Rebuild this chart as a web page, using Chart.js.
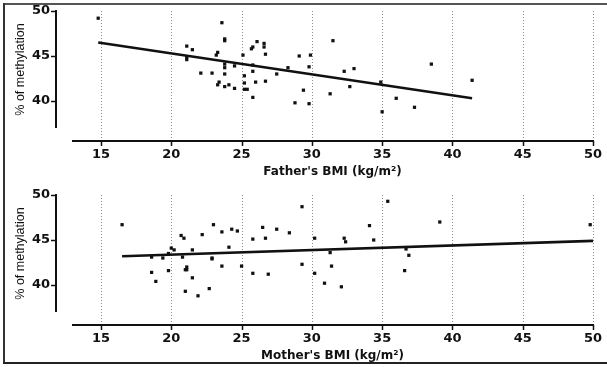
<!DOCTYPE html>
<html>
<head>
<meta charset="utf-8">
<script src="https://cdn.jsdelivr.net/npm/chart.js@4.4.1/dist/chart.umd.min.js"></script>
<style>
  html, body { margin: 0; padding: 0; background: #fff; overflow: hidden; }
  #wrap { position: relative; width: 607px; height: 367px; overflow: hidden; background: #fff; }
  #wrap canvas { position: absolute; left: 0; }
  #c1 { top: 0; }
  #c2 { top: 184px; }
  .fl { position: absolute; pointer-events: none; }
  #fTop { left: 3px; top: 3px; width: 604px; height: 2px; background: #555; }
  #fLeft { left: 3px; top: 3px; width: 2px; height: 361px; background: #333; }
  #fBot { left: 3px; top: 362px; width: 604px; height: 2px; background: #222; }
</style>
</head>
<body>
<div id="wrap">
  <canvas id="c1" width="607" height="183"></canvas>
  <canvas id="c2" width="607" height="183"></canvas>
  <div class="fl" id="fTop"></div>
  <div class="fl" id="fLeft"></div>
  <div class="fl" id="fBot"></div>
</div>
<script>
// ---- data ----
const fatherBMI  = [14.8, 23.6, 23.8, 23.8, 21.1, 21.5, 23.3, 23.2, 21.1, 21.1, 26.1, 25.8, 25.7, 26.6, 26.6, 26.7, 25.1,
                    23.8, 23.8, 23.8, 24.5, 25.8, 22.1, 22.9, 25.2, 25.8, 27.5, 28.3, 29.1, 29.9, 29.8, 23.4, 23.3,
                    23.8, 24.1, 24.5, 25.2, 25.2, 25.4, 26.0, 26.7, 25.8, 29.4, 28.8, 29.8, 31.5, 31.3, 32.3, 33.0,
                    32.7, 34.9, 35.0, 36.0, 37.3, 38.5, 41.4];
const fatherMeth = [49.2, 48.7, 46.9, 46.7, 46.1, 45.7, 45.4, 45.1, 44.9, 44.6, 46.6, 46.0, 45.8, 46.4, 46.0, 45.2, 45.1,
                    44.1, 43.7, 43.0, 43.9, 44.0, 43.1, 43.1, 42.8, 43.3, 43.0, 43.7, 45.0, 45.1, 43.8, 42.1, 41.8,
                    41.6, 41.8, 41.4, 42.0, 41.3, 41.3, 42.1, 42.2, 40.4, 41.2, 39.8, 39.7, 46.7, 40.8, 43.3, 43.6,
                    41.6, 42.1, 38.8, 40.3, 39.3, 44.1, 42.3];
const motherBMI  = [16.5, 18.6, 18.9, 18.6, 19.4, 19.8, 19.8, 20.0, 20.2, 20.7, 20.9, 20.8, 21.1, 21.0, 21.1, 21.0, 21.5,
                    21.5, 21.9, 22.2, 22.7, 22.9, 22.9, 23.0, 23.6, 23.6, 24.1, 24.3, 24.7, 25.0, 25.8, 25.8, 26.5,
                    26.7, 26.9, 27.5, 28.4, 29.3, 29.3, 30.2, 30.2, 30.9, 31.3, 31.4, 32.1, 32.3, 32.4, 34.1, 34.4,
                    35.4, 36.7, 36.9, 36.6, 39.1, 49.8];
const motherMeth = [46.7, 41.4, 40.4, 43.1, 43.0, 43.5, 41.6, 44.1, 43.9, 45.5, 45.2, 43.1, 42.0, 41.7, 41.7, 39.3, 40.8,
                    43.9, 38.8, 45.6, 39.6, 43.0, 42.9, 46.7, 45.9, 42.1, 44.2, 46.2, 46.0, 42.1, 45.1, 41.3, 46.4,
                    45.2, 41.2, 46.2, 45.8, 48.7, 42.3, 45.2, 41.3, 40.2, 43.6, 42.1, 39.8, 45.2, 44.8, 46.6, 45.0,
                    49.3, 44.0, 43.3, 41.6, 47.0, 46.7];
// regression line end points
const fatherFitBMI  = [14.8, 41.4];
const fatherFitMeth = [46.5, 40.3];
const motherFitBMI  = [16.5, 50];
const motherFitMeth = [43.2, 44.9];
// ticks & labels
const xTickValues = [15, 20, 25, 30, 35, 40, 45, 50];
const yTickValues = [40, 45, 50];
const yTitle = '% of methylation';
const fatherTitle = "Father's BMI (kg/m²)";
const motherTitle = "Mother's BMI (kg/m²)";

const toXY = (xs, ys) => xs.map((x, i) => ({ x: x, y: ys[i] }));

const prismAxes = {
  id: 'prismAxes',
  beforeDatasetsDraw(chart) {
    const { ctx, chartArea } = chart;
    const xs = chart.scales.x, ys = chart.scales.y;
    const axisY = Math.round(chartArea.bottom + 13);
    const axisX = Math.round(chartArea.left - 16);
    ctx.save();
    // dotted vertical grid
    ctx.strokeStyle = '#8c8c8c';
    ctx.lineWidth = 1;
    ctx.setLineDash([1, 2]);
    xTickValues.forEach(v => {
      const px = Math.round(xs.getPixelForValue(v)) + 0.5;
      ctx.beginPath(); ctx.moveTo(px, chartArea.top); ctx.lineTo(px, axisY); ctx.stroke();
    });
    ctx.setLineDash([]);
    ctx.strokeStyle = '#111';
    // x axis
    ctx.lineWidth = 2;
    ctx.beginPath(); ctx.moveTo(chartArea.left, axisY); ctx.lineTo(chartArea.right + 1, axisY); ctx.stroke();
    ctx.lineWidth = 1.5;
    xTickValues.forEach(v => {
      const px = Math.round(xs.getPixelForValue(v)) + 0.5;
      ctx.beginPath(); ctx.moveTo(px, axisY); ctx.lineTo(px, axisY + 5); ctx.stroke();
    });
    // y axis
    ctx.lineWidth = 2;
    ctx.beginPath(); ctx.moveTo(axisX, ys.getPixelForValue(ys.max) - 1); ctx.lineTo(axisX, ys.getPixelForValue(ys.min)); ctx.stroke();
    ctx.lineWidth = 1.5;
    yTickValues.forEach(v => {
      const py = Math.round(ys.getPixelForValue(v)) + 0.5;
      ctx.beginPath(); ctx.moveTo(axisX - 5, py); ctx.lineTo(axisX, py); ctx.stroke();
    });
    ctx.restore();
  }
};

function makeChart(id, bx, by, fx, fy, xTitle) {
  return new Chart(document.getElementById(id), {
    type: 'scatter',
    data: {
      datasets: [
        {
          type: 'line',
          data: toXY(fx, fy),
          borderColor: '#111',
          borderWidth: 2.6,
          pointRadius: 0,
          fill: false,
          tension: 0
        },
        {
          data: toXY(bx, by),
          pointStyle: 'rect',
          pointRadius: 2.3,
          pointBorderWidth: 0,
          backgroundColor: '#111',
          borderColor: '#111'
        }
      ]
    },
    options: {
      responsive: false,
      animation: false,
      devicePixelRatio: 1,
      layout: { padding: { left: 0, top: 11, right: 14, bottom: 0 } },
      plugins: { legend: { display: false }, tooltip: { enabled: false } },
      scales: {
        x: {
          type: 'linear',
          min: 12.937,
          max: 50,
          grid: { display: true, drawOnChartArea: false, drawTicks: true, tickLength: 17, color: 'rgba(0,0,0,0)' },
          border: { display: false },
          afterFit: s => { s.height = 55; },
          afterBuildTicks: s => { s.ticks = xTickValues.map(v => ({ value: v })); },
          ticks: {
            autoSkip: false, maxRotation: 0, minRotation: 0, padding: 2,
            color: '#111',
            font: { family: "'DejaVu Sans'", weight: 'bold', size: 13 }
          },
          title: {
            display: true, text: xTitle, color: '#111',
            padding: { top: 0, bottom: 4 },
            font: { family: "'DejaVu Sans'", weight: 'bold', size: 12 }
          }
        },
        y: {
          type: 'linear',
          min: 37,
          max: 50,
          grid: { display: true, drawOnChartArea: false, drawTicks: true, tickLength: 20, color: 'rgba(0,0,0,0)' },
          border: { display: false },
          afterFit: s => { s.width = 72; },
          afterBuildTicks: s => { s.ticks = yTickValues.map(v => ({ value: v })); },
          ticks: {
            padding: 2, color: '#111',
            font: { family: "'DejaVu Sans'", weight: 'bold', size: 13 }
          },
          title: {
            display: true, text: yTitle, color: '#111',
            padding: { top: 13, bottom: 0 },
            font: { family: "'Liberation Sans'", size: 12.5 }
          }
        }
      }
    },
    plugins: [prismAxes]
  });
}

makeChart('c1', fatherBMI, fatherMeth, fatherFitBMI, fatherFitMeth, fatherTitle);
makeChart('c2', motherBMI, motherMeth, motherFitBMI, motherFitMeth, motherTitle);
</script>
</body>
</html>
